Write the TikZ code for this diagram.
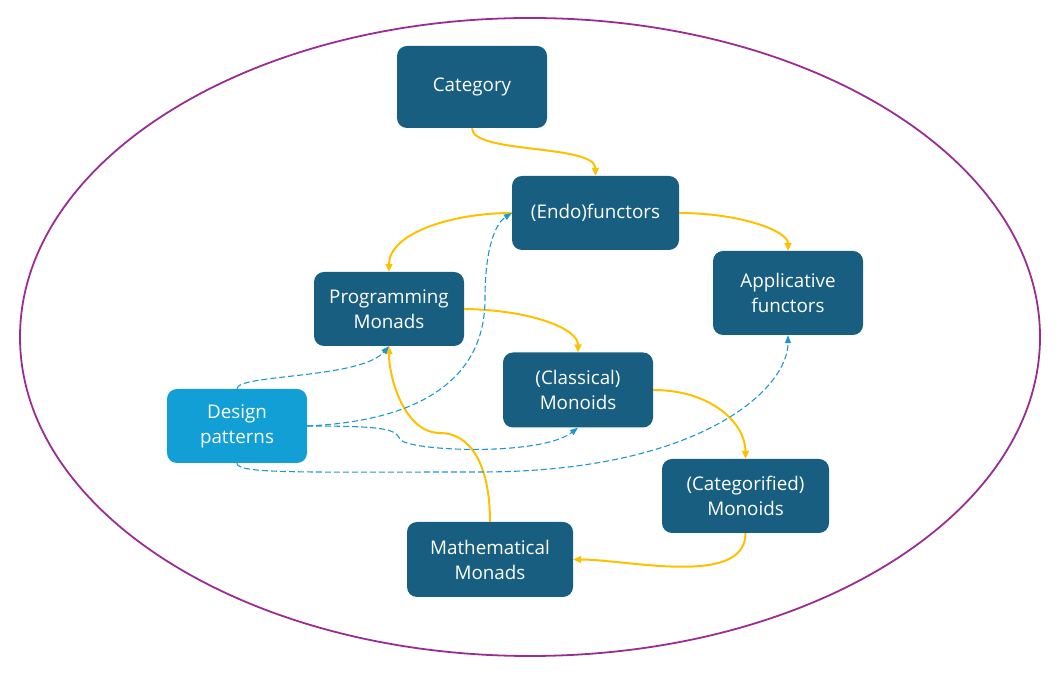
\documentclass[tikz,border=0pt]{standalone}
\usepackage{fontspec}
\setmainfont{Open Sans}
\usetikzlibrary{arrows.meta,shapes.geometric}
\definecolor{boxdark}{RGB}{24,94,128}
\definecolor{boxlight}{RGB}{17,159,214}
\definecolor{ringc}{RGB}{155,44,147}
\definecolor{orangec}{RGB}{255,192,0}
\definecolor{dashc}{RGB}{30,150,210}
\tikzset{
  box/.style={fill=boxdark,rounded corners=10pt,text=white,align=center,inner sep=0pt,
    font=\fontsize{18.8}{25}\selectfont},
  lightbox/.style={box,fill=boxlight},
  orangeline/.style={draw=orangec,line width=2pt,-{Triangle[length=8pt,width=7pt]}},
  blueline/.style={draw=dashc,line width=1.1pt,dash pattern=on 6pt off 3pt,-{Triangle[length=8pt,width=6pt]}},
}
\begin{document}
\begin{tikzpicture}[x=1pt,y=1pt]
\useasboundingbox (0,0) rectangle (1060,679);
\node[draw=ringc,line width=1.8pt,ellipse,minimum width=1020pt,minimum height=638pt,inner sep=0pt] (ring) at (530,342) {};
\node[box,minimum width=150pt,minimum height=82pt] (cat) at (472,592) {Category};
\node[box,minimum width=167pt,minimum height=74pt] (endo) at (595.5,466) {(Endo)functors};
\node[box,minimum width=150pt,minimum height=84pt] (ap) at (788,386) {Applicative\\functors};
\node[box,minimum width=150pt,minimum height=74pt] (pm) at (389,370) {Programming\\Monads};
\node[box,minimum width=150pt,minimum height=75pt] (cm) at (578,289) {(Classical)\\Monoids};
\node[lightbox,minimum width=140pt,minimum height=74pt] (dp) at (237,253) {Design\\patterns};
\node[box,minimum width=167pt,minimum height=74pt] (catm) at (745.5,183) {(Categorified)\\Monoids};
\node[box,minimum width=166pt,minimum height=75pt] (mm) at (490,119.5) {Mathematical\\Monads};
% orange connectors
\draw[orangeline] (cat.south) .. controls (472,525) and (595,535) .. (endo.north);
\draw[orangeline] (endo.east) .. controls (740,466) and (788,448) .. (ap.north);
\draw[orangeline] (endo.west) .. controls (450,466) and (389,445) .. (pm.north);
\draw[orangeline] (pm.east) .. controls (532,369) and (578,350) .. (cm.north);
\draw[orangeline] (cm.east) .. controls (712,289) and (745.5,255) .. (catm.north);
\draw[orangeline] (catm.south) to[out=-90,in=0,looseness=0.8] (mm.east);
\draw[orangeline] (mm.north) .. controls (490,215) and (470,246) .. (440,246) .. controls (405,246) and (389,300) .. (pm.south);
% blue dashed connectors
\draw[blueline] (dp.north) .. controls (237,305) and (360,300) .. (pm.south);
\draw[blueline] (dp.east) .. controls (420,258) and (485,300) .. (485,380) .. controls (485,430) and (495,455) .. (endo.west);
\draw[blueline] (dp.east) .. controls (385,253) and (395,250) .. (400,240) .. controls (405,228) and (540,222) .. (cm.south);
\draw[blueline] (dp.south) .. controls (237,205) and (300,207) .. (480,207) .. controls (700,207) and (788,290) .. (ap.south);
\end{tikzpicture}
\end{document}
